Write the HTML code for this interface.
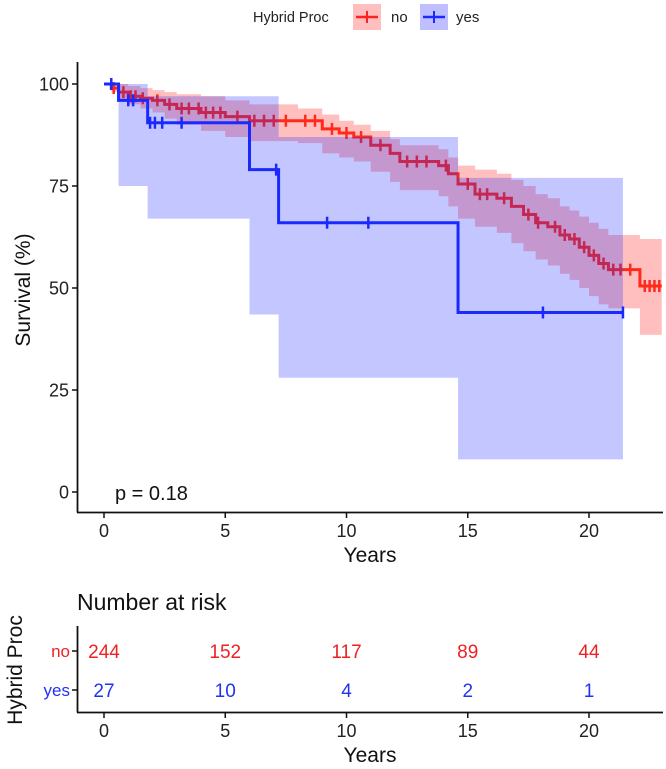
<!DOCTYPE html>
<html><head><meta charset="utf-8">
<style>
body{margin:0;background:#fff;}
svg{display:block;font-family:"Liberation Sans",Arial,sans-serif;}
</style></head>
<body>
<svg id="chart" width="666" height="769" viewBox="0 0 666 769">
  <g id="legend">
    <text x="253" y="22" font-size="14.5" fill="#222">Hybrid Proc</text>
    <g>
      <rect x="353" y="4" width="28" height="26" fill="rgba(255,0,0,0.25)"/>
      <line x1="356" y1="17" x2="378" y2="17" stroke="#ff2020" stroke-width="2.5"/>
      <line x1="367" y1="11" x2="367" y2="23" stroke="#ff2020" stroke-width="2"/>
      <text x="391" y="22" font-size="15" fill="#222">no</text>
    </g>
    <g>
      <rect x="420" y="4" width="28" height="26" fill="rgba(0,0,255,0.25)"/>
      <line x1="423" y1="17" x2="445" y2="17" stroke="#1a2aff" stroke-width="2.5"/>
      <line x1="434" y1="11" x2="434" y2="23" stroke="#1a2aff" stroke-width="2"/>
      <text x="456" y="22" font-size="15" fill="#222">yes</text>
    </g>
  </g>
  <g id="plot"></g>
  <g id="axes"></g>
  <g id="risk"></g>
</svg>
<script>
// ---- data ----
const redTimes = [0,0.3,0.6,1,1.5,2,2.5,3,4,5,6,8,9,9.7,10.3,11,11.8,12.2,13.8,14.2,14.6,15.3,16.2,16.8,17.3,17.8,18.3,18.8,19.2,19.6,20,20.4,20.8,22.1,23];
const redSurv  = [100,99,98,97,96.5,96,95,94,93,92,91,91,89,88,87,85,83,81,80,78,75.5,73,72,70,68,66,65,63,62,60,58,56,54.5,50.5,50.5];
const redUpper = [100,100,100,99.5,99,98.5,98,97.5,97,96,95,94,92.5,91,90,88.5,86.5,85,84,82,80,79,78,76.5,75,73,72,70,69,67.5,66,64.5,63,62,62];
const redLower = [100,98,96,95,94,93,91.5,90,88.5,87,86,85.5,83,82,81,78.5,76,74,72.5,70,67,65,63.5,61,59,57,55.5,53.5,52,50,48,46,45,38.5,38.5];
const redEnd = 23;
const redCensor = [0.4,0.8,1.1,1.3,1.6,2.2,2.7,3.2,3.5,3.9,4.2,4.5,4.8,5.5,6.2,6.6,7.0,7.5,8.3,8.7,9.4,10.0,10.6,11.4,12.5,12.9,13.3,14.1,15.0,15.5,15.8,16.5,17.5,17.9,18.6,19.0,19.4,19.8,20.2,20.6,21.0,21.3,21.7,22.3,22.5,22.7,22.9];
const blueTimes = [0,0.6,1.8,6.0,7.2,14.6];
const blueSurv  = [100,96,90.5,79,66,44];
const blueUpper = [100,100,97,97,87,77];
const blueLower = [100,75,67,43.5,28,8];
const blueEnd = 21.4;
const blueCensor = [0.3,1.0,1.2,1.9,2.1,2.4,3.2,7.1,9.2,10.9,18.1,21.4];
const xTicks = [0,5,10,15,20];
const yTicks = [0,25,50,75,100];
const riskGroups = ["no","yes"];
const riskNo  = [244,152,117,89,44];
const riskYes = [27,10,4,2,1];
const pValueText = "p = 0.18";

// ---- scales ----
const X0=104, XS=(589-104)/20;
const x = t => X0 + t*XS;
const y = s => 492 - s*(408/100);
const NS="http://www.w3.org/2000/svg";
function mk(tag, attrs, parent){const e=document.createElementNS(NS,tag);for(const k in attrs)e.setAttribute(k,attrs[k]);parent.appendChild(e);return e;}

function stepPath(times, vals, end){
  let d="M"+x(times[0])+","+y(vals[0]);
  for(let i=1;i<times.length;i++){d+=" H"+x(times[i])+" V"+y(vals[i]);}
  d+=" H"+x(end);
  return d;
}
function ribbonPath(times, up, lo, end){
  let d="M"+x(times[0])+","+y(up[0]);
  for(let i=1;i<times.length;i++){d+=" H"+x(times[i])+" V"+y(up[i]);}
  d+=" H"+x(end)+" V"+y(lo[lo.length-1]);
  for(let i=times.length-1;i>=1;i--){d+=" H"+x(times[i])+" V"+y(lo[i-1]);}
  d+=" H"+x(times[0])+" Z";
  return d;
}
function survAt(times, vals, t){let v=vals[0];for(let i=0;i<times.length;i++){if(times[i]<=t)v=vals[i];}return v;}

const plot=document.getElementById('plot');
const rr=mk('path',{d:ribbonPath(redTimes,redUpper,redLower,redEnd),fill:"rgba(255,0,0,0.25)"},plot);


const rl=mk('path',{d:stepPath(redTimes,redSurv,redEnd),fill:"none",stroke:"#ff2a1a","stroke-width":3},plot);


redCensor.forEach(t=>{
  const s=survAt(redTimes,redSurv,t);
  const c=mk('line',{x1:x(t),x2:x(t),y1:y(s)-6,y2:y(s)+6,stroke:"#ff2a1a","stroke-width":2.5},plot);
  
  
});
const br=mk('path',{d:ribbonPath(blueTimes,blueUpper,blueLower,blueEnd),fill:"rgba(20,30,255,0.25)"},plot);


const bl=mk('path',{d:stepPath(blueTimes,blueSurv,blueEnd),fill:"none",stroke:"#1a2aff","stroke-width":3},plot);


blueCensor.forEach(t=>{
  const s=survAt(blueTimes,blueSurv,t);
  const c=mk('line',{x1:x(t),x2:x(t),y1:y(s)-6,y2:y(s)+6,stroke:"#1a2aff","stroke-width":2.5},plot);
  
  
});
const pv=mk('text',{x:115,y:500,"font-size":20,fill:"#111"},plot);
pv.textContent=pValueText;



// ---- axes ----
const ax=document.getElementById('axes');
mk('line',{x1:77.5,y1:62,x2:77.5,y2:512.5,stroke:"#111","stroke-width":1.8},ax);
mk('line',{x1:77,y1:512.5,x2:663,y2:512.5,stroke:"#111","stroke-width":1.8},ax);
yTicks.forEach(v=>{
  mk('line',{x1:72,x2:77,y1:y(v),y2:y(v),stroke:"#111","stroke-width":1.5},ax);
  const t=mk('text',{x:69,y:y(v)+6.5,"text-anchor":"end","font-size":18,fill:"#222"},ax);
  t.textContent=v;
  
  
});
xTicks.forEach(v=>{
  mk('line',{x1:x(v),x2:x(v),y1:512,y2:518,stroke:"#111","stroke-width":1.5},ax);
  const t=mk('text',{x:x(v),y:537,"text-anchor":"middle","font-size":18,fill:"#222"},ax);
  t.textContent=v;
  
  
});
const xt=mk('text',{x:370,y:562,"text-anchor":"middle","font-size":21,fill:"#111"},ax);
xt.textContent="Years";


const yt=mk('text',{x:0,y:0,"text-anchor":"middle","font-size":21,fill:"#111",transform:"translate(30,290) rotate(-90)"},ax);
yt.textContent="Survival (%)";



// ---- risk table ----
const rk=document.getElementById('risk');
const rt=mk('text',{x:77,y:610,"font-size":23,fill:"#111"},rk);
rt.textContent="Number at risk";


mk('line',{x1:77.5,y1:626,x2:77.5,y2:712.5,stroke:"#111","stroke-width":1.8},rk);
mk('line',{x1:77,y1:712.5,x2:663,y2:712.5,stroke:"#111","stroke-width":1.8},rk);
const rows=[{vals:riskNo,y:651,col:"#ee2222"},{vals:riskYes,y:690,col:"#2233ee"}];
rows.forEach((r,i)=>{
  mk('line',{x1:72,x2:77,y1:r.y,y2:r.y,stroke:"#111","stroke-width":1.5},rk);
  const lb=mk('text',{x:70,y:r.y+6,"text-anchor":"end","font-size":17,fill:r.col},rk);
  lb.textContent=riskGroups[i];
  
  
  r.vals.forEach((v,j)=>{
    const t=mk('text',{x:x(xTicks[j]),y:r.y+7,"text-anchor":"middle","font-size":19,fill:r.col},rk);
    t.textContent=v;
    
    
  });
});
xTicks.forEach(v=>{
  mk('line',{x1:x(v),x2:x(v),y1:712,y2:718,stroke:"#111","stroke-width":1.5},rk);
  const t=mk('text',{x:x(v),y:737,"text-anchor":"middle","font-size":18,fill:"#222"},rk);
  t.textContent=v;
  
  
});
const rx=mk('text',{x:370,y:762,"text-anchor":"middle","font-size":21,fill:"#111"},rk);
rx.textContent="Years";


const ry=mk('text',{x:0,y:0,"text-anchor":"middle","font-size":21,fill:"#111",transform:"translate(22,670) rotate(-90)"},rk);
ry.textContent="Hybrid Proc";


</script>
</body></html>
